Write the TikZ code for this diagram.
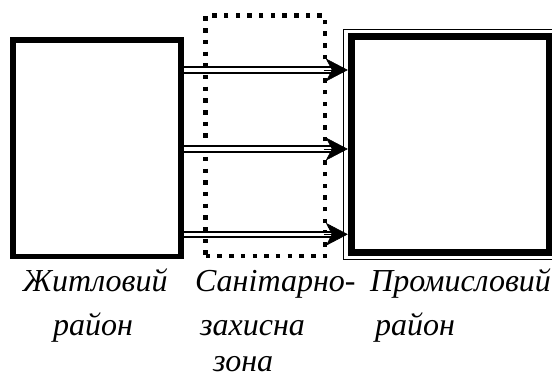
\documentclass[tikz,border=0pt]{standalone}
\usepackage{fontspec}
\setmainfont{Liberation Serif}
\usetikzlibrary{arrows.meta}
\tikzset{
  thickbox/.style={draw, rectangle, inner sep=0pt, line width=5.5pt},
  heavybox/.style={draw, rectangle, inner sep=0pt, line width=7pt},
  thinbox/.style={draw, rectangle, inner sep=0pt, line width=1pt},
  zonebox/.style={draw, rectangle, inner sep=0pt, line width=4.5pt, dash pattern=on 4.5pt off 7.2pt},
  dbl/.style={draw, line width=2pt, double=white, double distance=3.2pt, shorten >=12pt},
  tip/.style={draw, line width=0.6pt, shorten <=140pt, -{Stealth[length=22pt,width=23pt,inset=6pt]}},
  lbl/.style={anchor=base west, inner sep=0pt, font=\fontsize{32}{38}\selectfont\itshape}
}
\begin{document}
\begin{tikzpicture}[x=1pt,y=-1pt]
\path[use as bounding box, fill=white] (0,0) rectangle (552,379);
% boxes
\node[thickbox, minimum width=168.2pt, minimum height=216.7pt] (L) at (96.9,148.35) {};
\node[zonebox, minimum width=119.3pt, minimum height=240.3pt] (Z) at (265.35,135.85) {};
\node[thinbox, minimum width=213pt, minimum height=230pt] (Ro) at (450.2,145) {};
\node[heavybox, minimum width=198.2pt, minimum height=216pt] (R) at (450.4,145) {};
% arrow levels
\coordinate (y1) at (0,70);
\coordinate (y2) at (0,149);
\coordinate (y3) at (0,234.3);
\foreach \k in {y1,y2,y3}{
  \draw[dbl] (L.east |- \k) -- (R.west |- \k);
  \draw[tip] (L.east |- \k) -- (R.west |- \k);
}
% labels
\node[lbl] (t1) at (22.7,292) {Житловий};
\node[lbl] (t2) at (53,335.5) {район};
\node[lbl] (t3) at (195,292) {Санітарно-};
\node[lbl] (t4) at (200,335.5) {захисна};
\node[lbl] (t5) at (213,371.5) {зона};
\node[lbl] (t6) at (370,292) {Промисловий};
\node[lbl] (t7) at (375,335.5) {район};
\end{tikzpicture}
\end{document}
